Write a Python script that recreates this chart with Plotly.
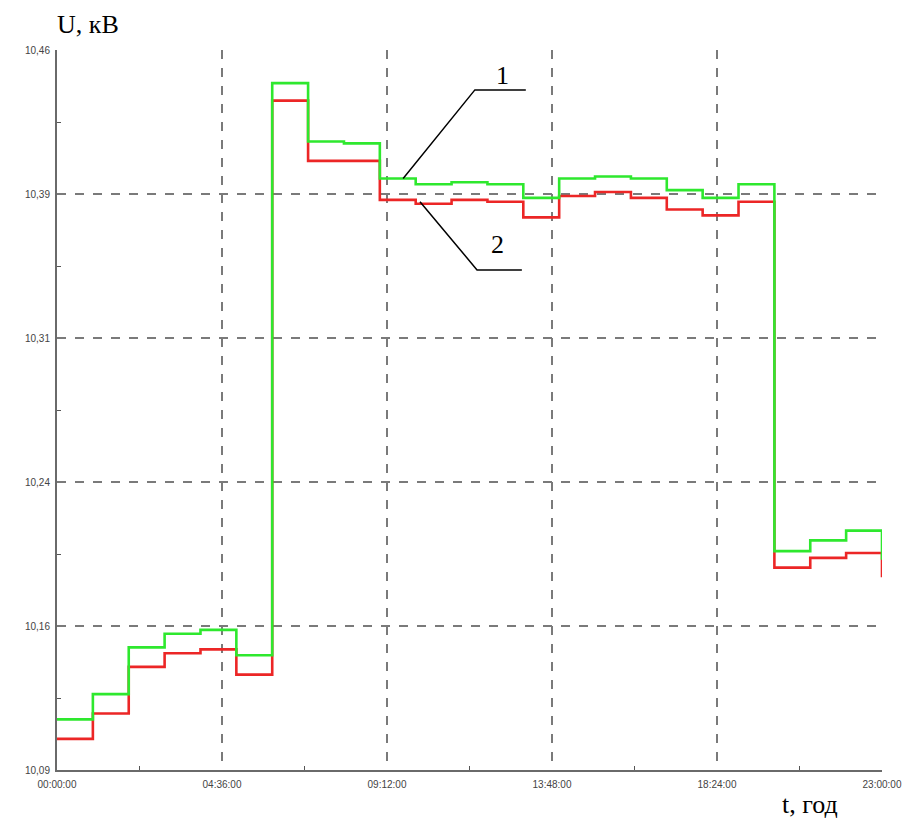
import plotly.graph_objects as go

# Time in hours (hourly steps), 00:00 .. 23:00
hours = list(range(24))

# Curve 1 (green) and curve 2 (red) voltages, kV (last value = end of last step)
u1 = [10.116, 10.129, 10.153, 10.160, 10.162, 10.149, 10.443, 10.413, 10.412,
      10.394, 10.391, 10.392, 10.391, 10.384, 10.394, 10.395, 10.394, 10.388,
      10.384, 10.391, 10.2025, 10.208, 10.213, 10.198]
u2 = [10.106, 10.119, 10.143, 10.150, 10.152, 10.139, 10.434, 10.403, 10.403,
      10.383, 10.381, 10.383, 10.382, 10.374, 10.385, 10.387, 10.384, 10.378,
      10.375, 10.382, 10.194, 10.199, 10.2015, 10.189]

x_tickvals = [0, 4.6, 9.2, 13.8, 18.4, 23]
x_ticktext = ["00:00:00", "04:36:00", "09:12:00", "13:48:00", "18:24:00", "23:00:00"]
y_tickvals = [10.09, 10.164, 10.238, 10.312, 10.386, 10.46]
y_ticktext = ["10,09", "10,16", "10,24", "10,31", "10,39", "10,46"]

GREEN = "#2ee82e"
RED = "#ec2626"

fig = go.Figure()
fig.add_trace(go.Scatter(x=hours, y=u2, mode="lines", line=dict(color=RED, width=2.6, shape="hv"),
                         name="2", showlegend=False))
fig.add_trace(go.Scatter(x=hours, y=u1, mode="lines", line=dict(color=GREEN, width=2.6, shape="hv"),
                         name="1", showlegend=False))

tickfont = dict(family="Liberation Sans, Arial", size=10, color="#444444")

fig.update_xaxes(range=[0, 23], tickmode="array", tickvals=x_tickvals, ticktext=x_ticktext,
                 showgrid=True, gridcolor="#7a7a7a", griddash="dash", gridwidth=1.8,
                 showline=True, linecolor="#6a6a6a", linewidth=2, ticks="", zeroline=False,
                 tickfont=tickfont, ticklabelstandoff=4, automargin=False,
                 minor=dict(tickmode="array", tickvals=[2.3, 6.9, 11.5, 16.1, 20.7],
                            ticks="inside", ticklen=4, tickcolor="#555555", showgrid=False))
fig.update_yaxes(range=[10.09, 10.46], tickmode="array", tickvals=y_tickvals, ticktext=y_ticktext,
                 showgrid=True, gridcolor="#7a7a7a", griddash="dash", gridwidth=1.8,
                 showline=True, linecolor="#6a6a6a", linewidth=2, ticks="", zeroline=False,
                 tickfont=tickfont, ticklabelstandoff=3, automargin=False,
                 minor=dict(tickmode="array", tickvals=[10.127, 10.201, 10.275, 10.349, 10.423],
                            ticks="inside", ticklen=4, tickcolor="#555555", showgrid=False))

serif = "Liberation Serif, Times New Roman, serif"
ann = [
    dict(text="U, кВ", x=0.038, y=1.035, xref="paper", yref="paper", showarrow=False,
         xanchor="center", yanchor="middle", font=dict(family=serif, size=26, color="black")),
    dict(text="t, год", x=0.913, y=-0.048, xref="paper", yref="paper", showarrow=False,
         xanchor="center", yanchor="middle", font=dict(family=serif, size=26, color="black")),
    dict(text="1", x=12.41, y=10.447, xref="x", yref="y", showarrow=False,
         xanchor="center", yanchor="middle", font=dict(family=serif, size=26, color="black")),
    dict(text="2", x=12.27, y=10.360, xref="x", yref="y", showarrow=False,
         xanchor="center", yanchor="middle", font=dict(family=serif, size=26, color="black")),
]

shapes = [
    dict(type="path", xref="x", yref="y",
         path="M 9.65,10.394 L 11.65,10.4395 L 13.07,10.4395",
         line=dict(color="black", width=1.5)),
    dict(type="path", xref="x", yref="y",
         path="M 10.12,10.382 L 11.71,10.347 L 12.96,10.347",
         line=dict(color="black", width=1.5)),
]

fig.update_layout(width=902, height=814, margin=dict(l=49, r=28, t=42, b=52, autoexpand=False),
                  plot_bgcolor="white", paper_bgcolor="white",
                  annotations=ann, shapes=shapes, showlegend=False)

fig.write_html("out.html")
